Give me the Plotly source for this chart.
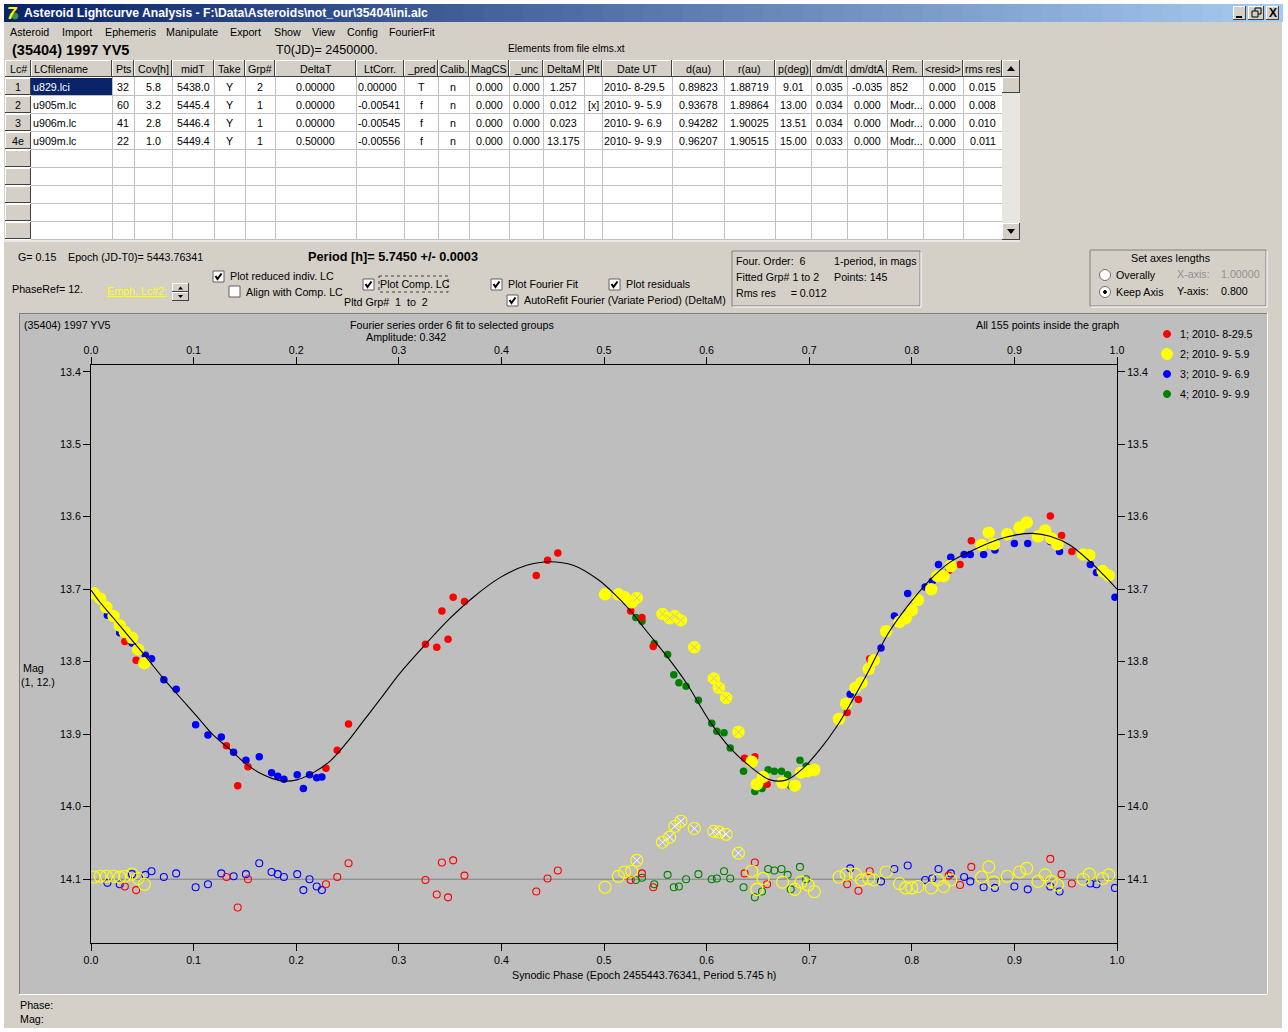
import plotly.graph_objects as go

W, H = 1288, 1032
FONT = "Liberation Sans"
TXT = 10.7
GREY = "#d4d0c8"
PANEL = "#bebebe"

# ======================== DATA ===========================

x_ticks = [0.0, 0.1, 0.2, 0.3, 0.4, 0.5, 0.6, 0.7, 0.8, 0.9, 1.0]
y_ticks = [13.4, 13.5, 13.6, 13.7, 13.8, 13.9, 14.0, 14.1]

# lc 1, 2010-8-29.5
phase_1 = [.033, .044, .132, .143, .153, .229, .240, .251, .326, .337, .348, .342, .353, .364, .434, .445,
           .455, .526, .537, .548, .637, .647, .659, .737, .748, .759, .836, .847, .858, .935, .946, .956]
mag_1 = [13.772, 13.798, 13.916, 13.971, 13.945, 13.947, 13.922, 13.886, 13.776, 13.780, 13.769, 13.730,
         13.711, 13.717, 13.681, 13.660, 13.650, 13.730, 13.739, 13.779, 13.933, 13.931, 13.969, 13.870,
         13.852, 13.796, 13.674, 13.666, 13.633, 13.599, 13.626, 13.648]
resid_1 = [14.110, 14.115, 14.097, 14.139, 14.100, 14.107, 14.097, 14.078, 14.101, 14.121, 14.125, 14.077,
           14.074, 14.095, 14.117, 14.099, 14.088, 14.101, 14.092, 14.111, 14.092, 14.077, 14.107, 14.107,
           14.116, 14.089, 14.095, 14.108, 14.083, 14.072, 14.093, 14.106]

# lc 2, 2010-9-5.9 (emphasized)
phase_2 = [.003, .009, .015, .022, .028, .033, .040, .046, .052, .501, .514, .520, .527,
           .644, .649, .655, .674, .686, .692, .699, .705, .729, .736,
           .745, .751, .758, .763, .775, .788, .794, .800, .806, .819, .825, .831, .838,
           .868, .875, .880, .893, .905, .912, .923, .930, .936, .942, .967, .973, .986, .992]
mag_2 = [13.706, 13.713, 13.725, 13.737, 13.750, 13.759, 13.767, 13.783, 13.802, 13.707, 13.707, 13.711, 13.718,
         13.938, 13.969, 13.959, 13.967, 13.971, 13.953, 13.951, 13.949, 13.879, 13.858,
         13.836, 13.829, 13.810, 13.798, 13.758, 13.745, 13.740, 13.729, 13.715, 13.700, 13.682, 13.682, 13.668,
         13.639, 13.622, 13.638, 13.624, 13.615, 13.608, 13.627, 13.619, 13.630, 13.638, 13.652, 13.653, 13.675, 13.681]
resid_2 = [14.097, 14.096, 14.096, 14.096, 14.097, 14.096, 14.093, 14.099, 14.107, 14.111, 14.096, 14.090, 14.089,
           14.089, 14.114, 14.099, 14.104, 14.114, 14.104, 14.108, 14.117, 14.097, 14.093,
           14.093, 14.101, 14.099, 14.101, 14.090, 14.106, 14.112, 14.112, 14.110, 14.112, 14.101, 14.110, 14.101,
           14.097, 14.083, 14.104, 14.096, 14.090, 14.085, 14.103, 14.094, 14.103, 14.108, 14.100, 14.093, 14.099, 14.094]

# lc 2 points left out of the fit
phase_2x = [.532, .557, .564, .569, .575, .588, .607, .612, .619, .631]
mag_2x = [13.712, 13.734, 13.740, 13.737, 13.743, 13.780, 13.823, 13.836, 13.850, 13.897]
resid_2x = [14.074, 14.049, 14.042, 14.027, 14.020, 14.030, 14.034, 14.035, 14.038, 14.064]

# lc 3, 2010-9-6.9
phase_3 = [.016, .028, .040, .053, .059, .071, .083, .102, .114, .127, .139, .151, .164, .176, .182, .188, .201,
           .207, .213, .220, .225, .740, .770, .783, .796, .813, .820, .826, .838, .851, .857, .870, .881, .900,
           .913, .935, .944, .974, .980, .998]
mag_3 = [13.736, 13.760, 13.774, 13.791, 13.796, 13.825, 13.838, 13.887, 13.901, 13.904, 13.925, 13.936, 13.931,
         13.953, 13.958, 13.962, 13.956, 13.975, 13.956, 13.960, 13.959, 13.845, 13.781, 13.737, 13.706, 13.697,
         13.689, 13.666, 13.656, 13.652, 13.652, 13.652, 13.646, 13.637, 13.637, 13.634, 13.648, 13.666, 13.677, 13.711]
resid_3 = [14.105, 14.107, 14.093, 14.094, 14.089, 14.097, 14.092, 14.111, 14.107, 14.092, 14.096, 14.093, 14.078,
           14.090, 14.093, 14.097, 14.093, 14.115, 14.100, 14.110, 14.115, 14.085, 14.103, 14.086, 14.081, 14.101,
           14.099, 14.086, 14.092, 14.097, 14.103, 14.111, 14.112, 14.110, 14.114, 14.110, 14.117, 14.106, 14.107, 14.112]

# lc 4, 2010-9-9.9
phase_4 = [.531, .537, .549, .562, .568, .573, .580, .592, .605, .610, .617, .623, .636, .647, .654, .660, .666,
           .673, .679, .682, .691, .697]
mag_4 = [13.739, 13.744, 13.775, 13.790, 13.818, 13.829, 13.834, 13.853, 13.885, 13.896, 13.898, 13.919, 13.951,
         13.979, 13.975, 13.949, 13.951, 13.951, 13.956, 13.971, 13.936, 13.944]
resid_4 = [14.101, 14.098, 14.107, 14.094, 14.111, 14.110, 14.100, 14.093, 14.100, 14.099, 14.089, 14.099, 14.111,
           14.125, 14.117, 14.086, 14.088, 14.086, 14.094, 14.114, 14.083, 14.100]

# Fourier fit
fit_phase = [0, .0088, .022, .038, .054, .0705, .0867, .103, .119, .1355, .152, .168, .184, .2005, .2167, .233,
             .249, .2654, .2817, .301, .326, .350, .3726, .3986, .4246, .4474, .470, .4945, .506, .5253, .5416,
             .561, .5806, .603, .6228, .642, .662, .678, .694, .7105, .727, .7414, .756, .777, .7966, .8177,
             .837, .8567, .8828, .902, .918, .9347, .954, .9737, .9867, 1.0]
fit_mag = [13.701, 13.718, 13.740, 13.767, 13.794, 13.823, 13.849, 13.875, 13.901, 13.921, 13.942, 13.956, 13.964,
           13.963, 13.953, 13.937, 13.912, 13.882, 13.852, 13.816, 13.776, 13.740, 13.711, 13.684, 13.667, 13.662,
           13.667, 13.687, 13.701, 13.729, 13.758, 13.792, 13.830, 13.882, 13.919, 13.944, 13.963, 13.963, 13.947,
           13.921, 13.889, 13.855, 13.818, 13.761, 13.722, 13.687, 13.663, 13.648, 13.632, 13.625, 13.623, 13.627,
           13.639, 13.662, 13.680, 13.700]

legend_labels = ["1; 2010- 8-29.5", "2; 2010- 9- 5.9", "3; 2010- 9- 6.9", "4; 2010- 9- 9.9"]
legend_colors = ["#ff0000", "#ffff00", "#0000ff", "#008000"]

# table on top of the window
col_edges = [5, 31, 112, 134, 172, 214, 245, 275, 356, 404, 438, 469, 509, 543, 584, 602, 672, 724, 775, 811, 847,
             887, 923, 963, 1002]
col_names = ["Lc#", "LCfilename", "Pts", "Cov[h]", "midT", "Take", "Grp#", "DeltaT", "LtCorr.", "_pred", "Calib.",
             "MagCS", "_unc", "DeltaM", "Plt", "Date UT", "d(au)", "r(au)", "p(deg)", "dm/dt", "dm/dtA", "Rem.",
             "&lt;resid&gt;", "rms res"]
table_rows = [
    ["1", "u829.lci", "32", "5.8", "5438.0", "Y", "2", "0.00000", "0.00000", "T", "n", "0.000", "0.000", "1.257", "",
     "2010- 8-29.5", "0.89823", "1.88719", "9.01", "0.035", "-0.035", "852", "0.000", "0.015"],
    ["2", "u905m.lc", "60", "3.2", "5445.4", "Y", "1", "0.00000", "-0.00541", "f", "n", "0.000", "0.000", "0.012", "[x]",
     "2010- 9- 5.9", "0.93678", "1.89864", "13.00", "0.034", "0.000", "Modr...", "0.000", "0.008"],
    ["3", "u906m.lc", "41", "2.8", "5446.4", "Y", "1", "0.00000", "-0.00545", "f", "n", "0.000", "0.000", "0.023", "",
     "2010- 9- 6.9", "0.94282", "1.90025", "13.51", "0.034", "0.000", "Modr...", "0.000", "0.010"],
    ["4e", "u909m.lc", "22", "1.0", "5449.4", "Y", "1", "0.50000", "-0.00556", "f", "n", "0.000", "0.000", "13.175", "",
     "2010- 9- 9.9", "0.96207", "1.90515", "15.00", "0.033", "0.000", "Modr...", "0.000", "0.011"],
]
left_cols = {1: 2, 8: 2, 15: 2, 21: 3}  # columns written from the left edge of the cell

# ======================== HELPERS ===========================

shapes = []
notes = []


def px(x):
    return x / W


def py(y):
    return 1 - y / H


def rect(x0, y0, x1, y1, fill=None, line=None, width=1, dash=None):
    shapes.append(dict(type="rect", xref="paper", yref="paper", x0=px(x0), x1=px(x1), y0=py(y0), y1=py(y1),
                       fillcolor=fill or "rgba(0,0,0,0)", layer="below",
                       line=dict(color=line or "rgba(0,0,0,0)", width=width if line else 0, dash=dash)))


def seg(x0, y0, x1, y1, color="#808080", width=1):
    shapes.append(dict(type="line", xref="paper", yref="paper", x0=px(x0), x1=px(x1), y0=py(y0), y1=py(y1),
                       layer="below", line=dict(color=color, width=width)))


def circle(cx, cy, r, fill, line=None):
    shapes.append(dict(type="circle", xref="paper", yref="paper", x0=px(cx - r), x1=px(cx + r), y0=py(cy - r),
                       y1=py(cy + r), fillcolor=fill, layer="below",
                       line=dict(color=line or fill, width=1)))


def triangle(x0, y0, x1, y1, x2, y2):
    shapes.append(dict(type="path", xref="paper", yref="paper", layer="below", fillcolor="black", line=dict(width=0),
                       path="M %f,%f L %f,%f L %f,%f Z" % (px(x0), py(y0), px(x1), py(y1), px(x2), py(y2))))


def text(x, y, s, size=TXT, color="black", anchor="left", bold=False):
    if bold:
        s = "<b>" + s + "</b>"
    if anchor == "left":
        x = x - 1
    notes.append(dict(x=px(x), y=py(y), xref="paper", yref="paper", text=s, showarrow=False, xanchor=anchor,
                      yanchor="middle", borderpad=0, font=dict(family=FONT, size=size, color=color)))


def button(x0, y0, x1, y1):
    rect(x0, y0, x1, y1, GREY)
    seg(x0, y0 + .5, x1, y0 + .5, "white")
    seg(x0 + .5, y0, x0 + .5, y1, "white")
    seg(x0, y1 - .5, x1, y1 - .5, "#404040")
    seg(x1 - .5, y0, x1 - .5, y1, "#404040")


def checkbox(x, y, checked=True):
    rect(x, y, x + 11, y + 11, "white", "#606060")
    if checked:
        shapes.append(dict(type="path", xref="paper", yref="paper", layer="below",
                           path="M %f,%f L %f,%f L %f,%f" % (px(x + 2.5), py(y + 5), px(x + 4.5), py(y + 8),
                                                             px(x + 8.5), py(y + 2.5)),
                           line=dict(color="black", width=2)))


def etched(x0, y0, x1, y1):
    rect(x0, y0, x1, y1, None, "#808080")
    seg(x0 + 1, y1 + 1, x1 + 1, y1 + 1, "white")
    seg(x1 + 1, y0 + 1, x1 + 1, y1 + 1, "white")


# ======================== WINDOW ===========================

rect(4, 4, 1282, 1028, GREY)

# title bar
for i in range(64):
    f = i / 63
    c = "rgb(%d,%d,%d)" % (10 + f * 156, 36 + f * 166, 106 + f * 134)
    rect(4 + i * 1278 / 64, 4, 4 + (i + 1) * 1278 / 64 + 1, 22, c)
circle(15, 16, 3, "#3f8f3f")
text(7, 13, "<i>7</i>", 17, "#ffff00", bold=True)
text(24, 13, "Asteroid Lightcurve Analysis - F:\\Data\\Asteroids\\not_our\\35404\\ini.alc", 12.2, "white", bold=True)
for x0, x1 in [(1233, 1246), (1248, 1264), (1266, 1279)]:
    button(x0, 6, x1, 20)
seg(1236, 17, 1242, 17, "black", 2)
rect(1255, 8, 1261, 14, None, "black")
rect(1252, 11, 1258, 17, GREY, "black")
text(1272.5, 13, "X", 12, "black", "center", True)

# menu
menu = [("Asteroid", 10), ("Import", 62), ("Ephemeris", 105), ("Manipulate", 166), ("Export", 230), ("Show", 274),
        ("View", 312), ("Config", 347), ("FourierFit", 389)]
for name, x in menu:
    text(x, 32, name)

text(12, 50, "(35404) 1997 YV5", 14.5, bold=True)
text(276, 50, "T0(JD)= 2450000.", 12.6)
text(508, 49, "Elements from file elms.xt", 10.2)

# table
rect(5, 60, 1020, 240, "white")
for i, name in enumerate(col_names):
    x0, x1 = col_edges[i], col_edges[i + 1]
    button(x0, 60, x1, 77)
    if name == "LCfilename":
        text(x0 + 3, 69, name)
    else:
        text((x0 + x1) / 2, 69, name, anchor="center")
row_y = [77, 95, 113, 131, 149, 167, 185, 203, 221, 239]
for j in range(len(row_y) - 1):
    button(5, row_y[j] + 1, 31, row_y[j + 1])
    seg(31, row_y[j + 1] + .5, 1002, row_y[j + 1] + .5, "#c0c0c0")
for x in col_edges[2:]:
    seg(x + .5, 77, x + .5, 240, "#c0c0c0")
rect(31, 78, 112, 95, "#0a246a")
for j, row in enumerate(table_rows):
    yc = (row_y[j] + row_y[j + 1]) / 2 + 1
    for i, val in enumerate(row):
        x0, x1 = col_edges[i], col_edges[i + 1]
        if i in left_cols:
            text(x0 + left_cols[i], yc, val, color="white" if i == 1 and j == 0 else "black")
        else:
            text((x0 + x1) / 2, yc, val, anchor="center")
# scrollbar
rect(1002, 60, 1020, 240, "#e8e6e0")
button(1002, 60, 1020, 77)
button(1002, 77, 1020, 93)
button(1002, 223, 1020, 240)
triangle(1007, 71, 1015, 71, 1011, 66)
triangle(1007, 229, 1015, 229, 1011, 234)
seg(4, 241, 1020, 241, "white")

# controls
text(18, 257, "G= 0.15")
text(68, 257, "Epoch (JD-T0)= 5443.76341")
text(308, 257, "Period [h]= 5.7450 +/- 0.0003", 12.7, bold=True)
text(12, 289, "PhaseRef= 12.")
text(107, 291, "<u>Emph. Lc#2:</u>", color="#ffff00")
button(172, 283, 189, 292)
button(172, 292, 189, 301)
triangle(178, 289.5, 183, 289.5, 180.5, 286.5)
triangle(178, 295, 183, 295, 180.5, 298)
checkbox(213, 271)
text(230, 276, "Plot reduced indiv. LC")
checkbox(229, 286, False)
text(246, 292, "Align with Comp. LC")
checkbox(363, 279)
text(380, 284, "Plot Comp. LC")
rect(379, 276, 448, 292, None, "#404040", 1, "dot")
text(344, 302, "Pltd Grp#  1  to  2")
checkbox(491, 279)
text(508, 284, "Plot Fourier Fit")
checkbox(609, 279)
text(626, 284, "Plot residuals")
checkbox(507, 295)
text(524, 300, "AutoRefit Fourier (Variate Period) (DeltaM)")

etched(732, 251, 920, 306)
text(736, 261, "Four. Order:  6")
text(834, 261, "1-period, in mags")
text(736, 277, "Fitted Grp# 1 to 2")
text(834, 277, "Points: 145")
text(736, 293, "Rms res     = 0.012")

etched(1090, 250, 1266, 306)
text(1131, 258, "Set axes lengths")
circle(1105, 275, 5.5, "white", "#707070")
text(1116, 275, "Overally")
circle(1105, 292, 5.5, "white", "#707070")
circle(1105, 292, 1.5, "black")
text(1116, 292, "Keep Axis")
text(1177, 274, "X-axis:", color="#909090")
text(1221, 274, "1.00000", color="#909090")
text(1177, 291, "Y-axis:")
text(1221, 291, "0.800")

# graph panel
rect(19, 313, 1267, 994, PANEL)
seg(19, 313.5, 1267, 313.5, "#808080")
seg(19.5, 313, 19.5, 994, "#808080")
seg(19, 994.5, 1267, 994.5, "white")
seg(1267.5, 313, 1267.5, 994, "white")
text(24, 325, "(35404) 1997 YV5")
text(350, 325, "Fourier series order 6 fit to selected groups")
text(366, 337, "Amplitude: 0.342")
text(976, 325, "All 155 points inside the graph")
text(23, 668, "Mag")
text(21, 682, "(1, 12.)")
text(512, 975, "Synodic Phase (Epoch 2455443.76341, Period 5.745 h)")
text(20, 1005, "Phase:")
text(20, 1019, "Mag:")

for k, (label, color) in enumerate(zip(legend_labels, legend_colors)):
    yc = 334 + k * 20
    circle(1167, yc, 5.5 if k == 1 else 3.5, color)
    text(1180, yc, label)

# ======================== CHART ===========================

fig = go.Figure()


def dots(xs, ys, color, size, name):
    fig.add_trace(go.Scatter(x=xs, y=ys, mode="markers", name=name, showlegend=False,
                             marker=dict(color=color, size=size, line=dict(width=0))))


def rings(xs, ys, color, size, name):
    fig.add_trace(go.Scatter(x=xs, y=ys, mode="markers", name=name, showlegend=False,
                             marker=dict(symbol="circle-open", color=color, size=size, line=dict(width=1.1, color=color))))


def crosses(xs, ys, color, name):
    fig.add_trace(go.Scatter(x=xs, y=ys, mode="markers", name=name, showlegend=False,
                             marker=dict(symbol="x-thin-open", color=color, size=8, line=dict(width=1, color=color))))


# residuals first, they keep the same order as the dots
rings(phase_4, resid_4, "#008000", 7, "res 4")
rings(phase_3, resid_3, "#0000ff", 7, "res 3")
rings(phase_1, resid_1, "#ff0000", 7, "res 1")
rings(phase_2 + phase_2x, resid_2 + resid_2x, "#ffff00", 12, "res 2")
crosses(phase_2x, resid_2x, "white", "res 2 excluded")

dots(phase_4, mag_4, "#008000", 7.5, legend_labels[3])
dots(phase_3, mag_3, "#0000ff", 7.5, legend_labels[2])
dots(phase_1, mag_1, "#ff0000", 7.5, legend_labels[0])
dots(phase_2 + phase_2x, mag_2 + mag_2x, "#ffff00", 12.5, legend_labels[1])
crosses(phase_2x, mag_2x, "#c8c8a0", "lc 2 excluded")

# the fit goes on the second pair of axes so that it ends up over the dots
fig.add_trace(go.Scatter(x=fit_phase, y=fit_mag, mode="lines", name="Fourier fit", showlegend=False,
                         xaxis="x2", yaxis="y2", line=dict(color="black", width=1.1, shape="spline", smoothing=1)))

axis_style = dict(showgrid=False, zeroline=False, showline=True, linecolor="black", linewidth=1, ticks="outside",
                  ticklen=7, tickwidth=1, tickcolor="black", tickfont=dict(family=FONT, size=TXT, color="black"),
                  automargin=False)
x_dom = [px(91), px(1117)]
y_dom = [py(943), py(364.5)]
x_range = [0, 1]
y_range = [14.188, 13.39]

fig.update_layout(
    width=W, height=H, autosize=False,
    margin=dict(l=0, r=0, t=0, b=0),
    paper_bgcolor="white", plot_bgcolor="rgba(0,0,0,0)",
    showlegend=False, hovermode="closest",
    shapes=shapes, annotations=notes,
    font=dict(family=FONT, size=TXT, color="black"),
    xaxis=dict(domain=x_dom, range=x_range, side="bottom", anchor="y", tickvals=x_ticks, ticktext=["%.1f" % v for v in x_ticks],
               ticklabelstandoff=0, **axis_style),
    yaxis=dict(domain=y_dom, range=y_range, side="left", anchor="x", tickvals=y_ticks, ticktext=["%.1f" % v for v in y_ticks],
               ticklabelstandoff=0, **axis_style),
    xaxis2=dict(domain=x_dom, range=x_range, side="top", anchor="y2", overlaying="x", tickvals=x_ticks,
                ticktext=["%.1f" % v for v in x_ticks], ticklabelstandoff=-2, **axis_style),
    yaxis2=dict(domain=y_dom, range=y_range, side="right", anchor="x2", overlaying="y", tickvals=y_ticks,
                ticktext=["%.1f" % v for v in y_ticks], ticklabelstandoff=0, **axis_style),
)

# residual baseline
fig.add_shape(type="line", xref="x", yref="y", x0=0, x1=1, y0=14.1, y1=14.1, layer="below",
              line=dict(color="#808080", width=1))

fig.write_html("out.html", config={"displayModeBar": False}, post_script="document.body.style.margin='0';")
